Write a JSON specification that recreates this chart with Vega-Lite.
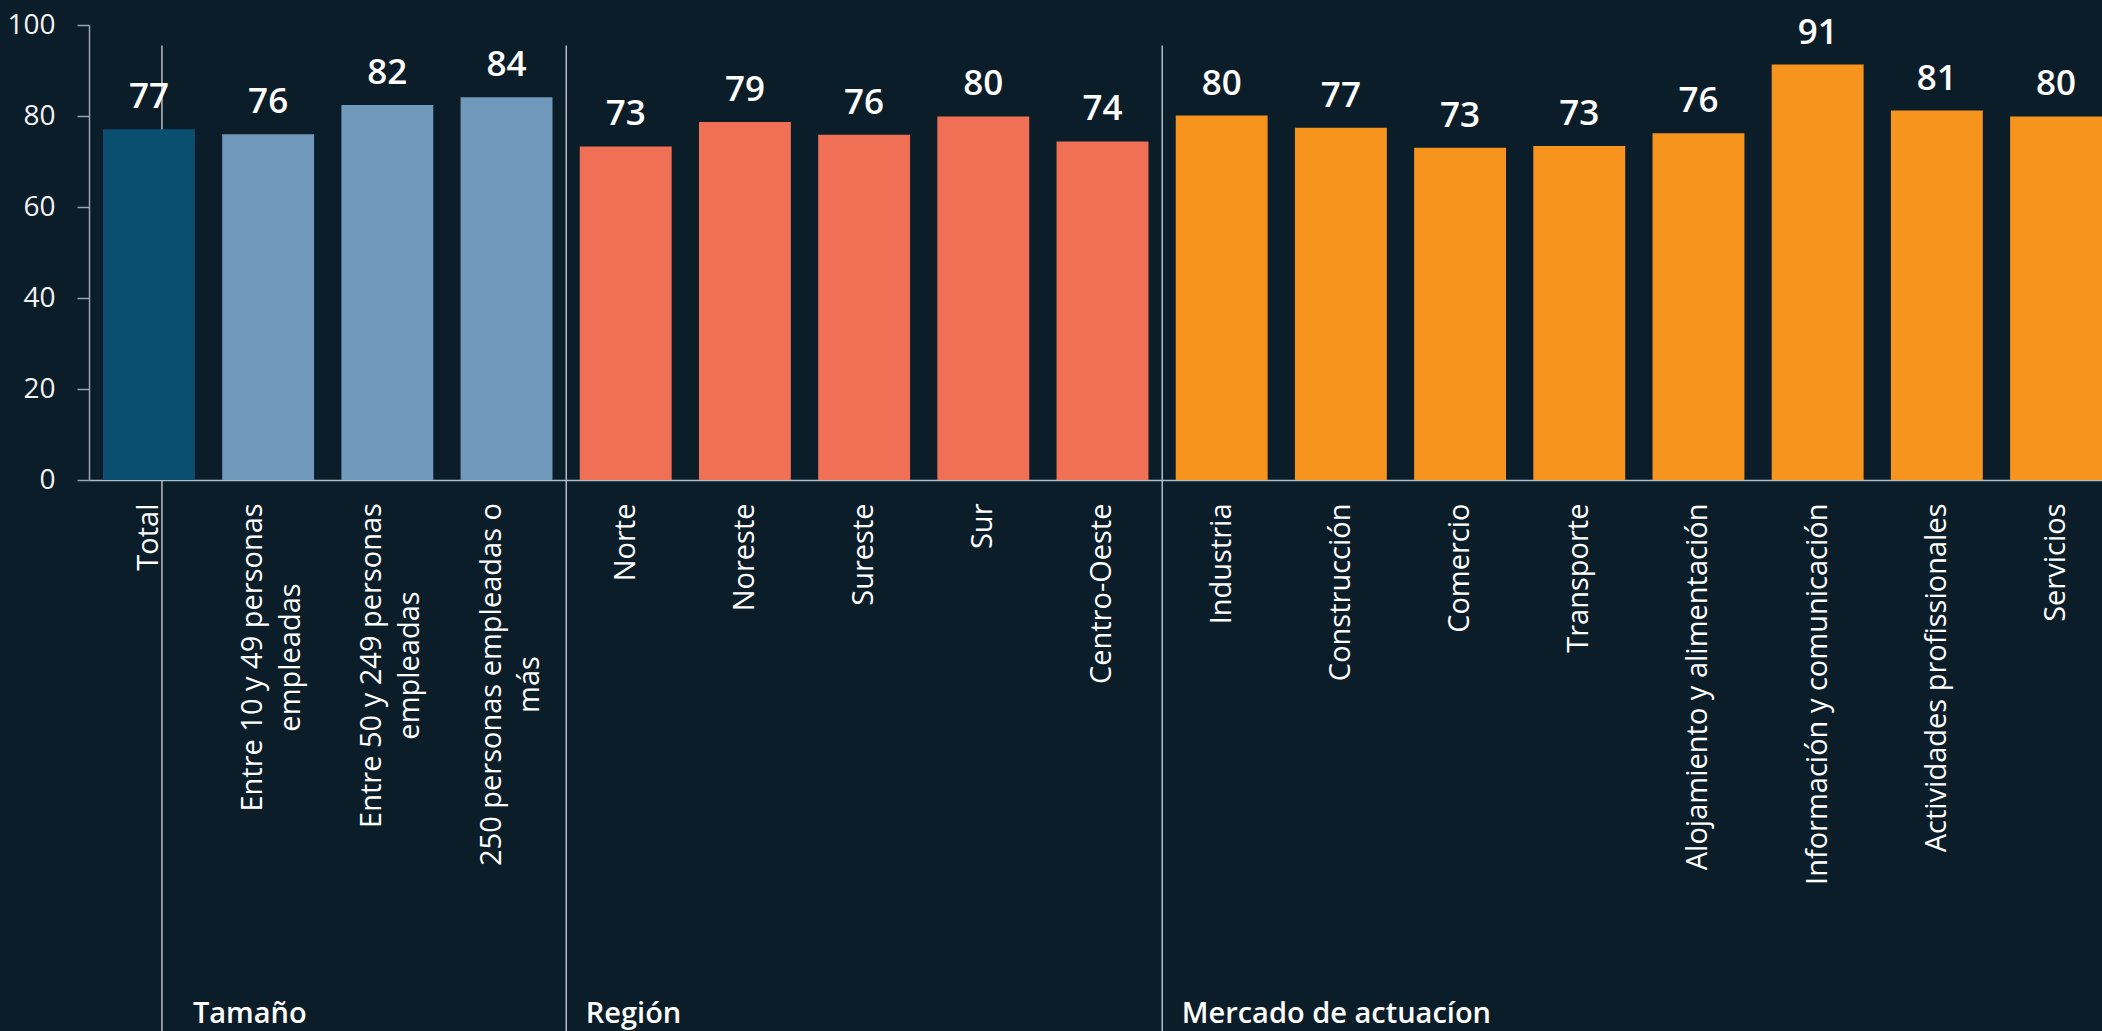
{
  "$schema": "https://vega.github.io/schema/vega-lite/v6.json",
  "width": 2013,
  "height": 455,
  "autosize": {"type": "none"},
  "padding": {"left": 89, "top": 25, "right": 0, "bottom": 551},
  "background": "#0C1D2A",
  "config": {
    "view": {"stroke": null},
    "font": "Open Sans",
    "axisY": {
      "labelOverlap": false,
      "grid": false,
      "domainColor": "#9AA5AE",
      "domainWidth": 1.5,
      "tickColor": "#9AA5AE",
      "tickWidth": 1.5,
      "tickSize": 12,
      "labelPadding": 22,
      "labelFontSize": 28,
      "labelColor": "#F2F2F2"
    }
  },
  "datasets": {
    "barras": [
      {"categoria": "Total", "tipo": "Total", "valor": 77.1},
      {"categoria": "Entre 10 y 49 personas empleadas", "tipo": "Tamaño", "valor": 76.0},
      {"categoria": "Entre 50 y 249 personas empleadas", "tipo": "Tamaño", "valor": 82.4},
      {"categoria": "250 personas empleadas o más", "tipo": "Tamaño", "valor": 84.1},
      {"categoria": "Norte", "tipo": "Región", "valor": 73.3},
      {"categoria": "Noreste", "tipo": "Región", "valor": 78.7},
      {"categoria": "Sureste", "tipo": "Región", "valor": 75.9},
      {"categoria": "Sur", "tipo": "Región", "valor": 79.9},
      {"categoria": "Centro-Oeste", "tipo": "Región", "valor": 74.4},
      {"categoria": "Industria", "tipo": "Mercado de actuacíon", "valor": 80.1},
      {"categoria": "Construcción", "tipo": "Mercado de actuacíon", "valor": 77.4},
      {"categoria": "Comercio", "tipo": "Mercado de actuacíon", "valor": 73.0},
      {"categoria": "Transporte", "tipo": "Mercado de actuacíon", "valor": 73.4},
      {"categoria": "Alojamiento y alimentación", "tipo": "Mercado de actuacíon", "valor": 76.2},
      {"categoria": "Información y comunicación", "tipo": "Mercado de actuacíon", "valor": 91.3},
      {"categoria": "Actividades profissionales", "tipo": "Mercado de actuacíon", "valor": 81.2},
      {"categoria": "Servicios", "tipo": "Mercado de actuacíon", "valor": 79.9}
    ],
    "separador_a": [{"categoria": "Total"}],
    "separador_b": [{"categoria": "Norte"}, {"categoria": "Industria"}],
    "grupo_a": [{"categoria": "Total", "grupo": "Tamaño"}],
    "grupo_b": [
      {"categoria": "Norte", "grupo": "Región"},
      {"categoria": "Industria", "grupo": "Mercado de actuacíon"}
    ]
  },
  "encoding": {
    "x": {
      "field": "categoria",
      "type": "nominal",
      "scale": {
        "domain": ["Total", "Entre 10 y 49 personas empleadas", "Entre 50 y 249 personas empleadas", "250 personas empleadas o más", "Norte", "Noreste", "Sureste", "Sur", "Centro-Oeste", "Industria", "Construcción", "Comercio", "Transporte", "Alojamiento y alimentación", "Información y comunicación", "Actividades profissionales", "Servicios"],
        "paddingInner": 0.229,
        "paddingOuter": 0.0587,
        "align": 1
      },
      "axis": {
        "title": null,
        "domain": true,
        "domainColor": "#A9BCCB",
        "domainWidth": 1.5,
        "ticks": false,
        "labelAngle": 270,
        "labelAlign": {
          "condition": {"test": "datum.value == 'Entre 10 y 49 personas empleadas' || datum.value == 'Entre 50 y 249 personas empleadas' || datum.value == '250 personas empleadas o más'", "value": "center"},
          "value": "right"
        },
        "labelPadding": {
          "condition": [
            {"test": "datum.value == 'Entre 10 y 49 personas empleadas'", "value": 177},
            {"test": "datum.value == 'Entre 50 y 249 personas empleadas'", "value": 185},
            {"test": "datum.value == '250 personas empleadas o más'", "value": 204}
          ],
          "value": 23
        },
        "labelOffset": {
          "condition": {"test": "datum.value == 'Entre 10 y 49 personas empleadas' || datum.value == 'Entre 50 y 249 personas empleadas' || datum.value == '250 personas empleadas o más'", "value": -15},
          "value": 0
        },
        "labelBaseline": "middle",
        "labelFontSize": 29,
        "labelLineHeight": 38,
        "labelColor": "#FFFFFF",
        "labelLimit": 0,
        "labelOverlap": false,
        "labelBound": false,
        "labelFlush": false,
        "labelExpr": "datum.value == 'Entre 10 y 49 personas empleadas' ? ['Entre 10 y 49 personas', 'empleadas'] : datum.value == 'Entre 50 y 249 personas empleadas' ? ['Entre 50 y 249 personas', 'empleadas'] : datum.value == '250 personas empleadas o más' ? ['250 personas empleadas o', 'más'] : datum.label"
      }
    }
  },
  "layer": [
    {
      "data": {"name": "separador_a"},
      "mark": {"type": "rule", "color": "#B4BCC3", "strokeWidth": 1.5, "xOffset": 13},
      "encoding": {
        "x": {"field": "categoria", "type": "nominal", "bandPosition": 0.5},
        "y": {"datum": 95.5, "type": "quantitative", "scale": {"domain": [0, 100], "nice": false}, "axis": {"title": null}},
        "y2": {"datum": -125}
      }
    },
    {
      "data": {"name": "separador_b"},
      "mark": {"type": "rule", "color": "#B4BCC3", "strokeWidth": 1.5, "xOffset": -13.5},
      "encoding": {
        "x": {"field": "categoria", "type": "nominal", "bandPosition": 0},
        "y": {"datum": 95.5, "type": "quantitative", "scale": {"domain": [0, 100], "nice": false}, "axis": {"title": null}},
        "y2": {"datum": -125}
      }
    },
    {
      "data": {"name": "barras"},
      "mark": {"type": "bar"},
      "encoding": {
        "y": {
          "field": "valor",
          "type": "quantitative",
          "scale": {"domain": [0, 100], "nice": false},
          "axis": {"title": null, "values": [0, 20, 40, 60, 80, 100], "labelOverlap": false}
        },
        "color": {
          "field": "tipo",
          "type": "nominal",
          "scale": {
            "domain": ["Total", "Tamaño", "Región", "Mercado de actuacíon"],
            "range": ["#0A4F70", "#7098BA", "#F07055", "#F7941E"]
          },
          "legend": null
        }
      }
    },
    {
      "data": {"name": "barras"},
      "mark": {"type": "text", "baseline": "alphabetic", "dy": -21, "fontSize": 35, "fontWeight": 600, "color": "#FFFFFF"},
      "encoding": {
        "y": {"field": "valor", "type": "quantitative", "scale": {"domain": [0, 100], "nice": false}, "axis": {"title": null}},
        "text": {"field": "valor", "type": "quantitative", "format": ".0f"}
      }
    },
    {
      "data": {"name": "grupo_a"},
      "mark": {"type": "text", "align": "left", "baseline": "alphabetic", "dx": -2, "fontSize": 29, "fontWeight": 600, "color": "#FFFFFF"},
      "encoding": {
        "x": {"field": "categoria", "type": "nominal", "bandPosition": 1},
        "y": {"datum": -119.3, "type": "quantitative", "scale": {"domain": [0, 100], "nice": false}, "axis": {"title": null}},
        "text": {"field": "grupo"}
      }
    },
    {
      "data": {"name": "grupo_b"},
      "mark": {"type": "text", "align": "left", "baseline": "alphabetic", "dx": 6, "fontSize": 29, "fontWeight": 600, "color": "#FFFFFF"},
      "encoding": {
        "x": {"field": "categoria", "type": "nominal", "bandPosition": 0},
        "y": {"datum": -119.3, "type": "quantitative", "scale": {"domain": [0, 100], "nice": false}, "axis": {"title": null}},
        "text": {"field": "grupo"}
      }
    }
  ]
}
